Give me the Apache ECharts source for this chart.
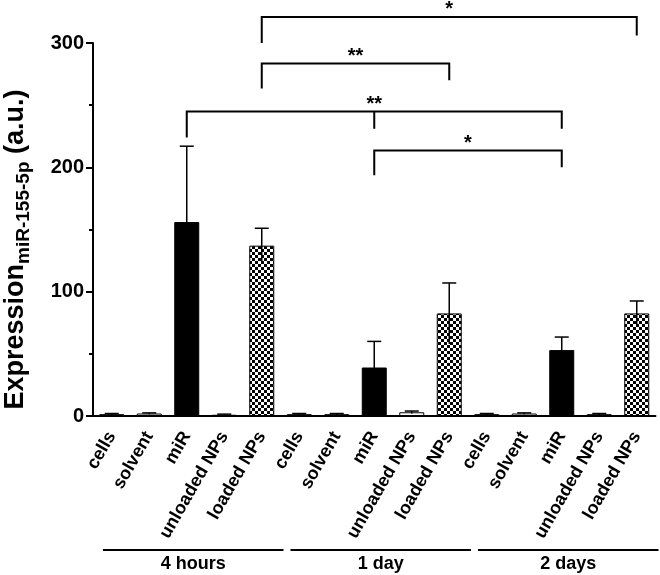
<!DOCTYPE html>
<html><head><meta charset="utf-8">
<script src="https://cdn.jsdelivr.net/npm/echarts@6/dist/echarts.min.js"></script>
<style>html,body{margin:0;padding:0;background:#fff}#c{width:660px;height:575px}</style>
</head><body><div id="c"></div>
<script>
const categories = ['cells','solvent','miR','unloaded NPs','loaded NPs',
                    'cells','solvent','miR','unloaded NPs','loaded NPs',
                    'cells','solvent','miR','unloaded NPs','loaded NPs'];
const values = [1.5, 2, 156, 1, 137,   1.5, 1.5, 39, 3, 82.5,   1.5, 2, 53, 1.5, 82.5];
const errors = [0.5, 0.5, 61, 0.5, 14,  0.5, 0.5, 21, 1, 24.5,   0.5, 0.5, 10.5, 0.5, 10];
const fills  = ['white','white','black','white','check', 'white','white','black','white','check', 'white','white','black','white','check'];
const yTicks = [0, 100, 200, 300];
// significance brackets: [fromIdx, toIdx, topY, leftEndY, rightEndY, midIdx(-1 none), label]
const brackets = [
  [4, 14, 321, 300, 306, -1, '*'],
  [4, 9, 283.5, 263.5, 270, -1, '**'],
  [2, 12, 245, 224, 231, 7, '**'],
  [7, 12, 213.6, 193.6, 200, -1, '*']
];
// time groups: [firstIdx, lastIdx, label]
const groups = [[0, 4, '4 hours'], [5, 9, '1 day'], [10, 14, '2 days']];

const FONT = 'Liberation Sans, Arial, sans-serif';
const cv = document.createElement('canvas');
cv.width = 6; cv.height = 6;
const cx = cv.getContext('2d');
cx.fillStyle = '#fff'; cx.fillRect(0,0,6,6);
cx.fillStyle = '#000'; cx.fillRect(0,0,3,3); cx.fillRect(3,3,3,3);
const checker = {image: cv, repeat: 'repeat'};

const barData = values.map((v,i) => ({
  value: v,
  itemStyle: {color: fills[i]==='black' ? '#000' : (fills[i]==='check' ? checker : '#fff'), borderColor:'#000', borderWidth:1}
}));

const chart = echarts.init(document.getElementById('c'));
chart.setOption({
  animation: false,
  backgroundColor: '#fff',
  grid: {left: 93, right: 4.5, top: 43, bottom: 159, containLabel: false, outerBoundsMode: 'none'},
  xAxis: {
    type: 'category', data: categories,
    axisLine: {lineStyle: {color:'#000', width: 2}},
    axisTick: {alignWithLabel: true, length: 6, lineStyle: {color:'#000', width: 2}},
    axisLabel: {rotate: 60, margin: 17, color:'#000', fontWeight:'bold', fontSize: 18, fontFamily: FONT, interval: 0}
  },
  yAxis: {
    type: 'value', min: 0, max: 300, interval: 100,
    name: '{a|Expression}{b|miR-155-5p}{a| (a.u.)}',
    nameLocation: 'middle', nameGap: 60, nameRotate: 90,
    nameTextStyle: {
      padding: [0, 40, 0, 0],
      rich: {
        a: {fontSize: 27, fontWeight: 'bold', color:'#000', fontFamily: FONT, lineHeight: 34, verticalAlign:'middle'},
        b: {fontSize: 19, fontWeight: 'bold', color:'#000', fontFamily: FONT, lineHeight: 16, verticalAlign:'bottom'}
      }
    },
    axisLine: {show: true, lineStyle: {color:'#000', width: 2}},
    axisTick: {show: true, length: 7, lineStyle: {color:'#000', width: 2}},
    minorTick: {show: true, splitNumber: 2, length: 4, lineStyle: {color:'#000', width: 2}},
    splitLine: {show: false},
    axisLabel: {margin: 9, color:'#000', fontWeight:'bold', fontSize: 20, fontFamily: FONT,
      formatter: v => yTicks.includes(v) ? String(v) : ''}
  },
  series: [
    {type: 'bar', data: barData, barWidth: 25, z: 2},
    {type: 'custom', z: 3, clip: false,
     data: values.map((v,i) => [i, v, errors[i]]),
     encode: {x: 0, y: 1},
     renderItem(params, api) {
       const i = api.value(0), v = api.value(1), e = api.value(2);
       const t = api.coord([i, v + e]), b = api.coord([i, v - e]);
       const cap = 7;
       return {type: 'group', children: [
         {type:'line', shape:{x1:t[0], y1:t[1], x2:b[0], y2:b[1]}, style:{stroke:'#000', lineWidth:1.5}},
         {type:'line', shape:{x1:t[0]-cap, y1:t[1], x2:t[0]+cap, y2:t[1]}, style:{stroke:'#000', lineWidth:1.5}}
       ]};
     }},
    {type: 'custom', z: 4, clip: false,
     data: brackets,
     encode: {x: 0, y: 2},
     renderItem(params, api) {
       const br = brackets[params.dataIndex];
       const L = api.coord([br[0], br[2]]), R = api.coord([br[1], br[2]]);
       const lb = api.coord([br[0], br[3]]), rb = api.coord([br[1], br[4]]);
       const st = {stroke:'#000', lineWidth:2};
       const ch = [
         {type:'polyline', shape:{points:[[lb[0], lb[1]], [L[0], L[1]], [R[0], R[1]], [rb[0], rb[1]]]}, style:{stroke:'#000', lineWidth:2, fill:null}}
       ];
       if (br[5] >= 0) {
         const m = api.coord([br[5], br[2]]), mb = api.coord([br[5], br[4]]);
         ch.push({type:'line', shape:{x1:m[0], y1:m[1], x2:mb[0], y2:mb[1]}, style:st});
       }
       ch.push({type:'text', x:(L[0]+R[0])/2, y:L[1]+3, style:{text: br[6], fill:'#000', fontSize: 20, fontWeight:'bold', fontFamily: FONT, align:'center', verticalAlign:'bottom'}});
       return {type:'group', children: ch};
     }},
    {type: 'custom', z: 4, clip: false,
     data: groups,
     encode: {x: 0},
     renderItem(params, api) {
       const g = groups[params.dataIndex];
       const bw = api.size([1, 0])[0];
       const a = api.coord([g[0], 0]), b = api.coord([g[1], 0]);
       const x1 = a[0] - bw/2 + 10, x2 = b[0] + bw/2 + 3;
       const y = a[1] + 134;
       return {type:'group', children: [
         {type:'line', shape:{x1:x1, y1:y, x2:x2, y2:y}, style:{stroke:'#000', lineWidth:2}},
         {type:'text', x:(x1+x2)/2, y:y+14, style:{text: g[2], fill:'#000', fontSize: 18, fontWeight:'bold', fontFamily: FONT, align:'center', verticalAlign:'middle'}}
       ]};
     }}
  ]
});
</script></body></html>
